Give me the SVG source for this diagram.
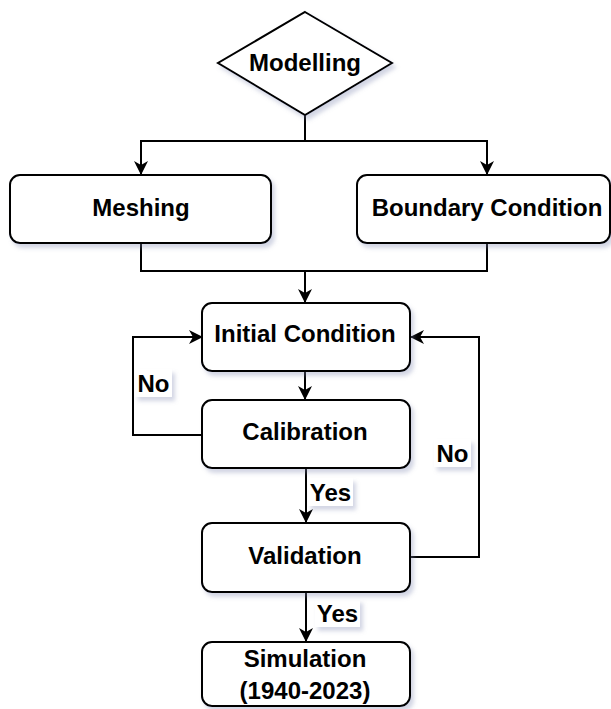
<svg xmlns="http://www.w3.org/2000/svg" width="611" height="709" viewBox="0 0 611 709">
<style>
.box{fill:#fff;stroke:#000;stroke-width:2;filter:url(#sh)}
.t{font-family:"Liberation Sans",Arial,sans-serif;font-weight:bold;font-size:24px;fill:#000;text-anchor:middle}
.c{fill:none;stroke:#000;stroke-width:2}
.lb{fill:#fff;filter:url(#sh)}
</style>
<defs>
<filter id="sh" x="-20%" y="-20%" width="140%" height="150%">
<feDropShadow dx="3" dy="4" stdDeviation="2" flood-color="#8088b0" flood-opacity="0.35"/>
</filter>
<marker id="ar" viewBox="0 0 14 14" refX="13" refY="7" markerWidth="14" markerHeight="14" markerUnits="userSpaceOnUse" orient="auto">
<path d="M0,0 L14,7 L0,14 L4,7 z" fill="#000"/>
</marker>
</defs>
<g id="connectors">
<path class="c" d="M305,115 L305,141"/>
<path class="c" d="M305,141 L141,141 L141,174" marker-end="url(#ar)"/>
<path class="c" d="M305,141 L487,141 L487,174" marker-end="url(#ar)"/>
<path class="c" d="M141,243 L141,271 L487,271 L487,243"/>
<path class="c" d="M305,271 L305,302" marker-end="url(#ar)"/>
<path class="c" d="M305,371 L305,399" marker-end="url(#ar)"/>
<path class="c" d="M203,435 L133,435 L133,337 L202,337" marker-end="url(#ar)"/>
<path class="c" d="M306,468 L306,522" marker-end="url(#ar)"/>
<path class="c" d="M410,557 L479,557 L479,337 L411,337" marker-end="url(#ar)"/>
<path class="c" d="M306,592 L306,641" marker-end="url(#ar)"/>
<rect class="lb" x="135" y="369" width="37" height="28"/>
<text class="t" x="153.5" y="392">No</text>
<rect class="lb" x="434" y="439" width="37" height="28"/>
<text class="t" x="452.5" y="462">No</text>
<rect class="lb" x="308" y="478" width="45" height="28"/>
<text class="t" x="330.5" y="501">Yes</text>
<rect class="lb" x="315" y="599" width="45" height="28"/>
<text class="t" x="337.5" y="622">Yes</text>
</g>
<g id="modelling">
<polygon class="box" points="305,12 392,63 305,115 218,63"/>
<text class="t" x="305" y="71">Modelling</text>
</g>
<g id="meshing">
<rect class="box" x="10" y="175" width="261" height="68" rx="10"/>
<text class="t" x="141" y="216">Meshing</text>
</g>
<g id="boundary">
<rect class="box" x="357" y="175" width="253" height="68" rx="10"/>
<text class="t" x="487" y="216">Boundary Condition</text>
</g>
<g id="initial">
<rect class="box" x="202" y="303" width="208" height="68" rx="10"/>
<text class="t" x="305" y="342">Initial Condition</text>
</g>
<g id="calibration">
<rect class="box" x="202" y="400" width="208" height="68" rx="10"/>
<text class="t" x="305" y="440">Calibration</text>
</g>
<g id="validation">
<rect class="box" x="202" y="523" width="208" height="69" rx="10"/>
<text class="t" x="305" y="564">Validation</text>
</g>
<g id="simulation">
<rect class="box" x="202" y="642" width="208" height="64" rx="10"/>
<text class="t" x="305" y="667">Simulation</text>
<text class="t" x="305" y="699">(1940-2023)</text>
</g>
</svg>
